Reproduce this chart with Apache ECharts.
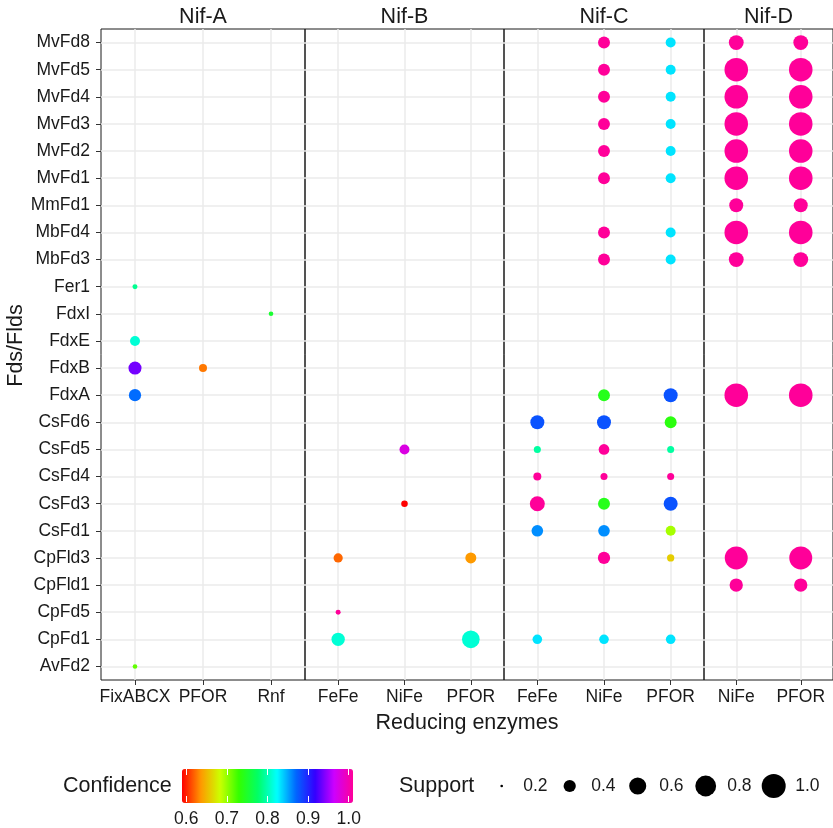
<!DOCTYPE html>
<html><head><meta charset="utf-8">
<script src="https://cdn.jsdelivr.net/npm/echarts@6.0.0/dist/echarts.min.js"></script>
<style>html,body{margin:0;padding:0;background:#fff}#c{width:833px;height:828px}</style>
</head><body><div id="c"></div>
<script>
// ---------------- data ----------------
const rows = ['MvFd8','MvFd5','MvFd4','MvFd3','MvFd2','MvFd1','MmFd1','MbFd4','MbFd3','Fer1','FdxI','FdxE','FdxB','FdxA','CsFd6','CsFd5','CsFd4','CsFd3','CsFd1','CpFld3','CpFld1','CpFd5','CpFd1','AvFd2'];
const panelNames = ['Nif-A','Nif-B','Nif-C','Nif-D'];
const nifA_enzymes = ['FixABCX','PFOR','Rnf'];
const nifB_enzymes = ['FeFe','NiFe','PFOR'];
const nifC_enzymes = ['FeFe','NiFe','PFOR'];
const nifD_enzymes = ['NiFe','PFOR'];

// [enzyme, Fd/Fld, support, confidence]
const nifA_points = [
  ['FixABCX','Fer1',0.225,0.79],
  ['Rnf','FdxI',0.22,0.755],
  ['FixABCX','FdxE',0.33,0.81],
  ['FixABCX','FdxB',0.43,0.93],
  ['PFOR','FdxB',0.28,0.635],
  ['FixABCX','FdxA',0.40,0.865],
  ['FixABCX','AvFd2',0.22,0.72]
];
const nifB_points = [
  ['NiFe','CsFd5',0.33,0.968],
  ['NiFe','CsFd3',0.25,0.60],
  ['FeFe','CpFld3',0.31,0.63],
  ['PFOR','CpFld3',0.36,0.645],
  ['FeFe','CpFd5',0.225,1.0],
  ['FeFe','CpFd1',0.44,0.81],
  ['PFOR','CpFd1',0.63,0.81]
];
const nifC_points = [
  ['NiFe','MvFd8',0.39,1.0],['PFOR','MvFd8',0.33,0.83],
  ['NiFe','MvFd5',0.39,1.0],['PFOR','MvFd5',0.33,0.83],
  ['NiFe','MvFd4',0.39,1.0],['PFOR','MvFd4',0.33,0.83],
  ['NiFe','MvFd3',0.39,1.0],['PFOR','MvFd3',0.33,0.83],
  ['NiFe','MvFd2',0.39,1.0],['PFOR','MvFd2',0.33,0.83],
  ['NiFe','MvFd1',0.39,1.0],['PFOR','MvFd1',0.33,0.83],
  ['NiFe','MbFd4',0.39,1.0],['PFOR','MbFd4',0.33,0.83],
  ['NiFe','MbFd3',0.39,1.0],['PFOR','MbFd3',0.33,0.83],
  ['NiFe','FdxA',0.39,0.745],['PFOR','FdxA',0.465,0.875],
  ['FeFe','CsFd6',0.465,0.875],['NiFe','CsFd6',0.465,0.875],['PFOR','CsFd6',0.39,0.74],
  ['FeFe','CsFd5',0.26,0.795],['NiFe','CsFd5',0.35,1.0],['PFOR','CsFd5',0.26,0.795],
  ['FeFe','CsFd4',0.28,1.0],['NiFe','CsFd4',0.26,1.0],['PFOR','CsFd4',0.26,1.0],
  ['FeFe','CsFd3',0.506,1.0],['NiFe','CsFd3',0.39,0.745],['PFOR','CsFd3',0.465,0.875],
  ['FeFe','CsFd1',0.38,0.855],['NiFe','CsFd1',0.38,0.855],['PFOR','CsFd1',0.33,0.70],
  ['NiFe','CpFld3',0.40,1.0],['PFOR','CpFld3',0.265,0.667],
  ['FeFe','CpFd1',0.32,0.83],['NiFe','CpFd1',0.32,0.83],['PFOR','CpFd1',0.32,0.83]
];
const nifD_points = [
  ['NiFe','MvFd8',0.50,1.0],['PFOR','MvFd8',0.50,1.0],
  ['NiFe','MvFd5',0.97,1.0],['PFOR','MvFd5',0.97,1.0],
  ['NiFe','MvFd4',0.97,1.0],['PFOR','MvFd4',0.97,1.0],
  ['NiFe','MvFd3',0.97,1.0],['PFOR','MvFd3',0.97,1.0],
  ['NiFe','MvFd2',0.97,1.0],['PFOR','MvFd2',0.97,1.0],
  ['NiFe','MvFd1',0.97,1.0],['PFOR','MvFd1',0.97,1.0],
  ['NiFe','MmFd1',0.465,1.0],['PFOR','MmFd1',0.465,1.0],
  ['NiFe','MbFd4',0.97,1.0],['PFOR','MbFd4',0.97,1.0],
  ['NiFe','MbFd3',0.50,1.0],['PFOR','MbFd3',0.50,1.0],
  ['NiFe','FdxA',0.97,1.0],['PFOR','FdxA',0.97,1.0],
  ['NiFe','CpFld3',0.93,1.0],['PFOR','CpFld3',0.93,1.0],
  ['NiFe','CpFld1',0.44,1.0],['PFOR','CpFld1',0.44,1.0]
];
const supportBreaks = [0.2,0.4,0.6,0.8,1.0];
const confidenceBreaks = [0.6,0.7,0.8,0.9,1.0];
const confidenceRange = [0.6,1.0];
const rainbow10 = ['#FF0000','#FF9900','#CCFF00','#33FF00','#00FF66','#00FFFF','#0066FF','#3300FF','#CC00FF','#FF0099'];

// ---------------- layout / style ----------------
const FONT = '"Liberation Sans", Arial, Helvetica, sans-serif';
const TXT = '#1a1a1a';
const PLOT_TOP = 29, PLOT_H = 651;
const panelBoxes = [[101,204],[305,199],[504,200],[704,130]];
const panelEnz = [nifA_enzymes, nifB_enzymes, nifC_enzymes, nifD_enzymes];
const panelPts = [nifA_points, nifB_points, nifC_points, nifD_points];
const gridLine = {show:true, alignWithLabel:true, lineStyle:{color:'#ebebeb', width:1.5}};

function dotSize(s){ const r = Math.max(0,(s-0.19)/0.81); return Math.max(1.6, 24*Math.sqrt(r)); }

const grids = panelBoxes.map(([l,w]) => ({left:l, width:w, top:PLOT_TOP, height:PLOT_H, show:true,
  borderColor:'#1a1a1a', borderWidth:1, backgroundColor:'rgba(0,0,0,0)'}));
grids.push({left:101, width:733, top:PLOT_TOP, height:PLOT_H});   // 4: shared x title
grids.push({left:182, width:171, top:769, height:34});            // 5: colour bar ticks
grids.push({left:467.7, width:340, top:769, height:34});          // 6: size legend

const xAxes = [], yAxes = [], series = [];
panelEnz.forEach((enz,i) => {
  xAxes.push({type:'category', gridIndex:i, data:enz, position:'bottom', boundaryGap:true,
    axisLine:{show:false},
    axisTick:{show:true, alignWithLabel:true, length:5, lineStyle:{color:'#333', width:1}},
    axisLabel:{fontSize:17.5, color:TXT, margin:8, fontFamily:FONT, interval:0},
    splitLine:gridLine});
  xAxes.push({type:'category', gridIndex:i, data:enz, position:'top',
    axisLine:{show:false}, axisTick:{show:false}, axisLabel:{show:false}, splitLine:{show:false},
    name:panelNames[i], nameLocation:'middle', nameGap:1,
    nameTextStyle:{fontSize:21.5, color:TXT, fontFamily:FONT}});
  yAxes.push({type:'category', gridIndex:i, data:rows, inverse:true, boundaryGap:true,
    axisLine:{show:false},
    axisTick: i===0 ? {show:true, alignWithLabel:true, length:5, lineStyle:{color:'#333', width:1}} : {show:false},
    axisLabel: i===0 ? {fontSize:17.5, color:TXT, margin:11, fontFamily:FONT, interval:0} : {show:false},
    splitLine:gridLine,
    name: i===0 ? 'Fds/Flds' : '', nameLocation:'middle', nameGap:66,
    nameTextStyle:{fontSize:21.5, color:TXT, fontFamily:FONT, padding:[0,0,0,18]}});
  series.push({type:'scatter', xAxisIndex:2*i, yAxisIndex:i, data:panelPts[i], symbol:'circle',
    symbolSize:(v)=>dotSize(v[2]), itemStyle:{opacity:1}, emphasis:{disabled:true}, silent:true});
});
// shared x title (axis 8)
xAxes.push({type:'value', gridIndex:4, min:0, max:1, axisLine:{show:false}, axisTick:{show:false},
  axisLabel:{show:false}, splitLine:{show:false},
  name:'Reducing enzymes', nameLocation:'middle', nameGap:32,
  nameTextStyle:{fontSize:21.5, color:TXT, fontFamily:FONT}});
yAxes.push({type:'value', gridIndex:4, show:false});
// colour bar ticks (axes 9, 10)
const cPad = (confidenceRange[1]-confidenceRange[0])/38;
xAxes.push({type:'value', gridIndex:5, min:confidenceRange[0]-cPad, max:confidenceRange[1]+cPad, position:'bottom', z:10,
  axisLine:{show:false},
  axisTick:{show:true, inside:true, length:6, customValues:confidenceBreaks, lineStyle:{color:'#fff', width:1}},
  axisLabel:{show:true, customValues:confidenceBreaks, formatter:(v)=>(+v).toFixed(1), margin:8, fontSize:17.5, color:TXT, fontFamily:FONT},
  splitLine:{show:false}});
xAxes.push({type:'value', gridIndex:5, min:confidenceRange[0]-cPad, max:confidenceRange[1]+cPad, position:'top', z:10,
  axisLine:{show:false},
  axisTick:{show:true, inside:true, length:6, customValues:confidenceBreaks, lineStyle:{color:'#fff', width:1}},
  axisLabel:{show:false}, splitLine:{show:false}});
yAxes.push({type:'value', gridIndex:5, show:false});
// size legend (axis 11)
xAxes.push({type:'category', gridIndex:6, data:supportBreaks.map(v=>v.toFixed(1)), show:false});
yAxes.push({type:'value', gridIndex:6, min:0, max:1, show:false});
series.push({type:'scatter', xAxisIndex:11, yAxisIndex:6, silent:true,
  data:supportBreaks.map(s=>[s.toFixed(1), 0.5, s]), symbol:'circle',
  symbolSize:(v)=>dotSize(v[2]), itemStyle:{color:'#000', opacity:1},
  label:{show:true, position:'inside', align:'left', offset:[21.5,0], formatter:(p)=>p.value[0],
    fontSize:17.5, color:TXT, fontFamily:FONT, textBorderWidth:0}});

const option = {
  animation:false,
  backgroundColor:'#fff',
  textStyle:{fontFamily:FONT},
  title:[
    {text:'Confidence', left:63, top:775, padding:0, textStyle:{fontSize:21.5, fontWeight:'normal', color:TXT, fontFamily:FONT}},
    {text:'Support', left:399, top:775, padding:0, textStyle:{fontSize:21.5, fontWeight:'normal', color:TXT, fontFamily:FONT}}
  ],
  grid:grids, xAxis:xAxes, yAxis:yAxes, series:series,
  visualMap:{type:'continuous', min:confidenceRange[0], max:confidenceRange[1], dimension:3, seriesIndex:[0,1,2,3],
    inRange:{color:rainbow10}, orient:'horizontal', left:182, top:769, itemWidth:34, itemHeight:171,
    calculable:false, hoverLink:false, padding:0, showLabel:false}
};
const chart = echarts.init(document.getElementById('c'), null, {renderer:'canvas'});
chart.setOption(option);
</script></body></html>
